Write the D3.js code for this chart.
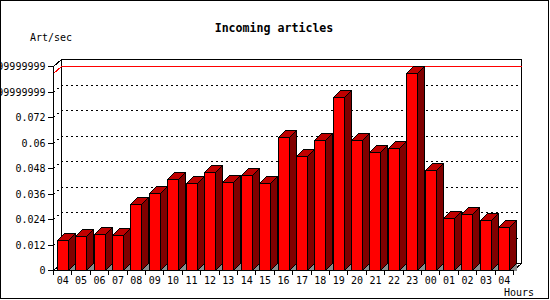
<!DOCTYPE html>
<html><head><meta charset="utf-8">
<script src="https://cdn.jsdelivr.net/npm/d3@7"></script>
<style>body{margin:0;background:#fff}svg{display:block}text{font-family:"DejaVu Sans Mono",monospace}</style>
</head><body><svg id="c" width="550" height="300"></svg>
<script>
const categories = ["04","05","06","07","08","09","10","11","12","13","14","15","16","17","18","19","20","21","22","23","00","01","02","03","04"];
const values = [0.0141,0.0160,0.0169,0.0163,0.0311,0.0364,0.0431,0.0412,0.0460,0.0417,0.0450,0.0412,0.0626,0.0535,0.0612,0.0813,0.0615,0.0558,0.0577,0.0930,0.0469,0.0243,0.0262,0.0234,0.0201];
const yTicks = [0,0.012,0.024,0.036,0.048,0.06,0.072,0.084,0.096];
const yTickLabels = ["0","0.012","0.024","0.036","0.048","0.06","0.072","0.0839999999999999","0.0959999999999999"];
const title = "Incoming articles";
const yTitle = "Art/sec";
const xTitle = "Hours";

const svg = d3.select("#c").attr("shape-rendering","crispEdges");
const DX = 8, DY = 7, BDX = 7, BDY = 7, FW = 11;
const x = d3.scaleBand().domain(d3.range(categories.length)).range([53, 513]).padding(0);
const y = d3.scaleLinear().domain([0, 0.096]).range([270, 66.3]);
const x0 = 53, x1 = 513;

svg.append("rect").attr("x",0.5).attr("y",0.5).attr("width",548).attr("height",298).attr("fill","#fff").attr("stroke","#000");

// title
svg.append("text").attr("x",274).attr("y",31.5).attr("text-anchor","middle").attr("font-weight","bold").attr("font-size","11.6px").text(title);
svg.append("text").attr("x",30).attr("y",41).attr("font-size","10px").text(yTitle);
svg.append("text").attr("x",534).attr("y",296).attr("text-anchor","end").attr("font-size","10px").text(xTitle);

const g = svg.append("g");
// grid lines (dotted) on back plane + diagonal
yTicks.forEach((t,i)=>{
  if (i===0 || i===yTicks.length-1) return;
  const yf = Math.round(y(t))+0.5;
  g.append("path").attr("d",`M${x0+0.5},${yf}L${x0+DX+0.5},${yf-DY}L${x1+DX+0.5},${yf-DY}`)
    .attr("fill","none").attr("stroke","#000").attr("stroke-dasharray","2,3");
});
// back frame
const yTop = Math.round(y(0.096))+0.5;
g.append("path").attr("d",`M${x0+0.5},${yTop}L${x0+DX+0.5},${yTop-DY}L${x1+DX+0.5},${yTop-DY}L${x1+DX+0.5},${263.5}L${x0+DX+0.5},263.5L${x0+DX+0.5},${yTop-DY}`)
  .attr("fill","none").attr("stroke","#000");
g.append("path").attr("d",`M${x0+0.5},270.5L${x0+DX+0.5},263.5M${x1+0.5},270.5L${x1+DX+0.5},263.5`).attr("fill","none").attr("stroke","#000");
// max red line
const maxV = d3.max(values);
const ym = Math.round(y(maxV))+0.5;
g.append("path").attr("d",`M${x0+0.5},${ym}L${x0+DX+0.5},${ym-DY}L${x1+DX+0.5},${ym-DY}`).attr("fill","none").attr("stroke","#f00");

// bars
const bars = g.selectAll("g.bar").data(values).join("g").attr("class","bar");
bars.each(function(v,i){
  const s = d3.select(this);
  const cx = x(i) + x.bandwidth()/2;
  const l = Math.round(cx - FW/2)+0.5, r = l + FW;
  const b = 270.5, t = Math.round(y(v))+0.5;
  s.append("path").attr("d",`M${r},${b}L${r+BDX},${b-BDY}L${r+BDX},${b}Z`).attr("fill","#8c8c8c").attr("stroke","none");
  s.append("path").attr("d",`M${r},${b}L${r+BDX},${b-BDY}L${r+BDX},${t-BDY}L${r},${t}Z`).attr("fill","#800000").attr("stroke","#000");
  s.append("path").attr("d",`M${l},${t}L${l+BDX},${t-BDY}L${r+BDX},${t-BDY}L${r},${t}Z`).attr("fill","#c00000").attr("stroke","#000");
  s.append("rect").attr("x",l).attr("y",t).attr("width",FW).attr("height",b-t).attr("fill","#ff0000").attr("stroke","#000");
});

// front axes
const ax = svg.append("g");
ax.append("path").attr("d",`M${x0+0.5},${yTop}L${x0+0.5},270.5L${x1+0.5},270.5`).attr("fill","none").attr("stroke","#000");
yTicks.forEach((t,i)=>{
  const yf = Math.round(y(t))+0.5;
  ax.append("path").attr("d",`M${x0-5},${yf}L${x0+0.5},${yf}`).attr("stroke","#000");
  ax.append("text").attr("x",45.5).attr("y",yf+3.5).attr("text-anchor","end").attr("font-size","10px").text(yTickLabels[i]);
});
categories.forEach((c,i)=>{
  const xt = Math.round(x(i))+0.5;
  ax.append("path").attr("d",`M${xt},270.5L${xt},274.5`).attr("stroke","#000");
  ax.append("text").attr("x",x(i)+x.bandwidth()/2+0.5).attr("y",284.3).attr("text-anchor","middle").attr("font-size","10px").text(c);
});
ax.append("path").attr("d",`M${x1+0.5},270.5L${x1+0.5},274.5`).attr("stroke","#000");
</script></body></html>
